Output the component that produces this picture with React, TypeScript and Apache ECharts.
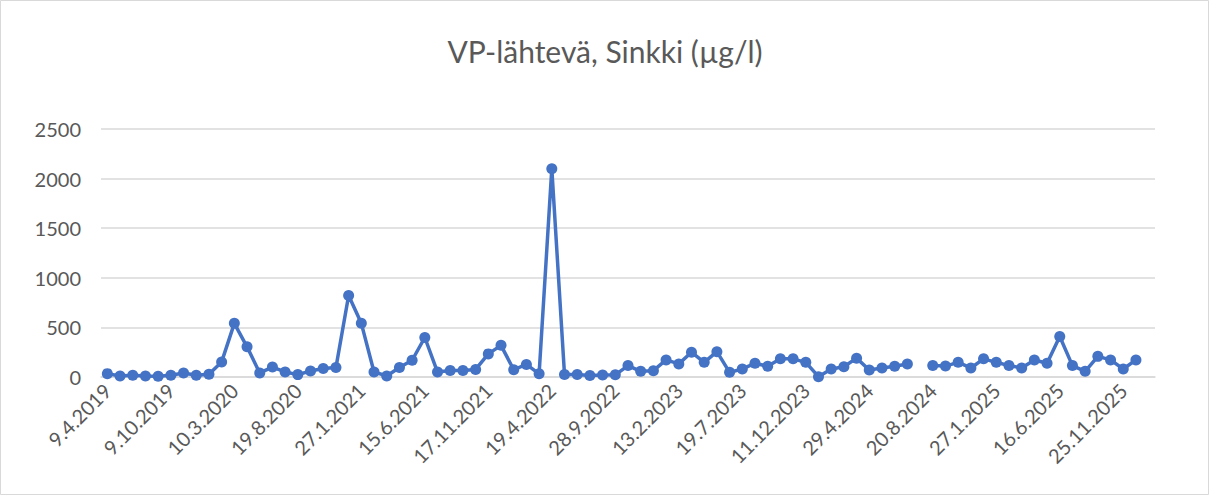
import React, { useEffect, useRef } from "react";
import * as echarts from "echarts";

const tickLabels: string[] = [
  "9.4.2019", "9.10.2019", "10.3.2020", "19.8.2020", "27.1.2021", "15.6.2021",
  "17.11.2021", "19.4.2022", "28.9.2022", "13.2.2023", "19.7.2023", "11.12.2023",
  "29.4.2024", "20.8.2024", "27.1.2025", "16.6.2025", "25.11.2025",
];

const zincValues: (number | null)[] = [
  34, 10, 17, 10, 7, 17, 41, 17, 27, 152,
  541, 304, 41, 100, 51, 24, 61, 85, 95, 822,
  541, 51, 10, 95, 169, 398, 50, 66, 66, 76,
  233, 319, 73, 127, 32, 2100, 25, 25, 15, 20,
  22, 115, 57, 64, 172, 132, 250, 148, 255, 47,
  81, 138, 108, 183, 183, 148, 3, 81, 104, 190,
  71, 91, 108, 132, null, 115, 110, 148, 91, 183,
  148, 115, 91, 172, 138, 409, 115, 57, 208, 172,
  81, 172, null,
];

const labelStep = 5;
const categories: string[] = zincValues.map((_, i) =>
  i % labelStep === 0 && tickLabels[i / labelStep] !== undefined ? tickLabels[i / labelStep] : ""
);

const FONT = "Lato, 'Open Sans', sans-serif";

export default function App() {
  const ref = useRef<HTMLDivElement>(null);
  useEffect(() => {
    if (!ref.current) return;
    const chart = echarts.init(ref.current, undefined, { renderer: "svg" });
    chart.setOption({
      animation: false,
      backgroundColor: "#ffffff",
      title: {
        text: "VP-lähtevä, Sinkki (µg/l)",
        left: "center",
        top: 31,
        textStyle: { fontFamily: FONT, fontSize: 30, fontWeight: "normal", color: "#595959" },
      },
      graphic: [
        {
          type: "rect",
          shape: { x: 0.5, y: 0.5, width: 1208, height: 494 },
          style: { fill: "none", stroke: "#d9d9d9", lineWidth: 1 },
          silent: true,
        },
      ],
      grid: { left: 101, right: 55, top: 129, bottom: 119, containLabel: false },
      xAxis: {
        type: "category",
        data: categories,
        boundaryGap: true,
        axisLine: { show: true, lineStyle: { color: "#d9d9d9", width: 1.5 } },
        axisTick: { show: false },
        axisLabel: {
          interval: labelStep - 1,
          rotate: 45,
          margin: 10,
          fontFamily: FONT,
          fontSize: 20,
          color: "#595959",
        },
        splitLine: { show: false },
      },
      yAxis: {
        type: "value",
        min: 0,
        max: 2500,
        interval: 500,
        axisLine: { show: false },
        axisTick: { show: false },
        axisLabel: {
          margin: 20,
          fontFamily: FONT,
          fontSize: 20,
          color: "#595959",
          formatter: (v: number) => String(v),
        },
        splitLine: { show: true, lineStyle: { color: "#d9d9d9", width: 1.5 } },
      },
      series: [
        {
          type: "line",
          data: zincValues,
          connectNulls: false,
          showAllSymbol: true,
          symbol: "circle",
          symbolSize: 11,
          itemStyle: { color: "#4472C4" },
          lineStyle: { color: "#4472C4", width: 3.5 },
        },
      ],
    });
    return () => chart.dispose();
  }, []);
  return (
    <div
      ref={ref}
      style={{ position: "fixed", left: 0, top: 0, width: 1210, height: 496 }}
    />
  );
}
